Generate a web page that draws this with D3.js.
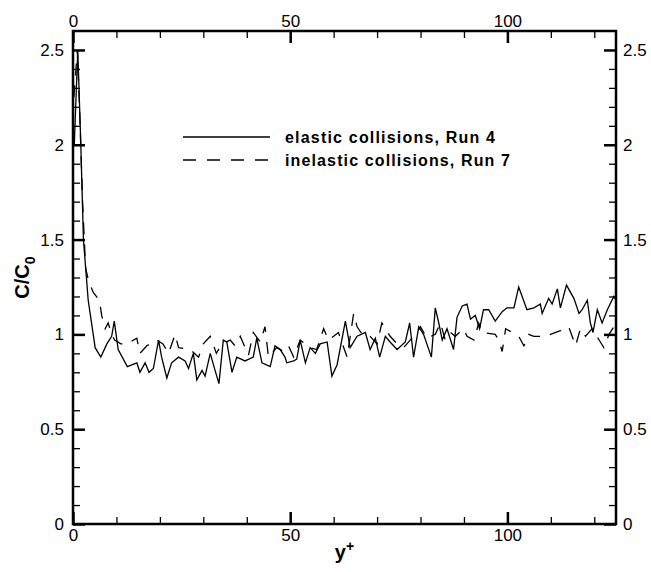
<!DOCTYPE html>
<html>
<head>
<meta charset="utf-8">
<script src="https://cdn.jsdelivr.net/npm/d3@7"></script>
<style>
  body { margin: 0; background: #fff; }
  text { font-family: "Liberation Sans", Arial, sans-serif; fill: #000; }
</style>
</head>
<body>
<div id="chart"></div>
<script>
const width = 651
const height = 572
const margin = { top: 31, right: 35, bottom: 48, left: 73 }

// --- Data ---
// elastic collisions, Run 4 (solid)
const elasticX = [0.3, 1.1, 1.8, 2.4, 3.5, 5.1, 6.4, 7.8, 8.9, 9.5, 10.4, 12.5, 14.7, 15.4, 16.6, 17.5, 18.5, 19.7, 20.4, 21.6,
  22.7, 24.3, 25.8, 26.6, 27.7, 28.5, 29.7, 30.4, 31.6, 32.7, 33.6, 34.6, 35.4, 36.6, 37.7, 39.6, 41.5, 42.3, 43.5, 45.4,
  46.5, 47.7, 48.8, 49.2, 50.8, 51.5, 52.3, 53.5, 54.6, 55.8, 56.9, 58.5, 59.6, 60.8, 62.7, 63.8, 65.4, 67.3, 68.4, 69.6,
  70.6, 71.9, 73.0, 74.6, 76.5, 77.5, 78.4, 79.6, 80.7, 82.5, 83.4, 84.2, 85.0, 86.1, 87.6, 88.4, 89.6, 90.7, 91.5, 92.6,
  93.6, 94.5, 95.7, 97.2, 98.8, 99.9, 101.5, 102.6, 104.5, 106.1, 107.6, 108.0, 109.5, 110.3, 111.5, 112.2, 113.6, 115.3,
  116.5, 117.2, 118.4, 119.1, 119.7, 120.7, 121.8, 123.0, 124.5, 125]
const elasticY = [2.0, 2.5, 2.0, 1.5, 1.18, 0.93, 0.88, 0.95, 0.99, 1.07, 0.92, 0.83, 0.85, 0.80, 0.85, 0.80, 0.82, 0.97, 0.88, 0.77,
  0.85, 0.88, 0.86, 0.82, 0.90, 0.76, 0.81, 0.78, 0.90, 0.81, 0.74, 0.97, 0.96, 0.80, 0.88, 0.86, 0.88, 0.98, 0.85, 0.83,
  0.94, 0.92, 0.88, 0.85, 0.86, 0.87, 0.97, 0.85, 0.93, 0.90, 0.95, 0.96, 0.78, 0.84, 1.07, 0.93, 0.99, 1.01, 0.92, 0.98,
  0.88, 0.99, 0.96, 0.92, 0.96, 1.06, 0.88, 1.04, 1.00, 0.88, 1.14, 1.06, 0.97, 1.03, 0.92, 1.09, 1.15, 1.16, 1.08, 1.10,
  1.03, 1.13, 1.13, 1.07, 1.12, 1.14, 1.14, 1.25, 1.13, 1.14, 1.16, 1.11, 1.19, 1.16, 1.24, 1.14, 1.26, 1.19,
  1.11, 1.13, 1.18, 1.06, 1.01, 1.13, 1.06, 1.13, 1.20, 1.18]

// inelastic collisions, Run 7 (dashed)
const inelasticX = [0.2, 1.0, 1.5, 2.2, 2.9, 3.6, 4.7, 6.1, 6.6, 7.4, 8.1, 8.9, 9.6, 11.0, 12.4, 14.7, 15.4, 17.0, 19.3, 20.7,
  22.0, 23.5, 24.3, 27.0, 28.9, 30.0, 31.6, 33.0, 34.3, 36.2, 37.3, 38.5, 40.4, 41.5, 43.1, 44.2, 45.0, 46.9, 48.5, 49.6,
  50.8, 52.3, 54.6, 56.1, 57.7, 58.8, 60.0, 61.1, 63.1, 64.6, 65.4, 66.9, 68.4, 70.0, 71.1, 73.0, 74.6, 76.1, 79.2, 80.0,
  81.5, 83.4, 84.6, 85.7, 86.9, 88.0, 89.9, 90.7, 92.3, 93.4, 94.2, 97.2, 98.0, 98.8, 99.6, 101.1, 102.6, 103.8, 104.9, 106.1,
  108.4, 109.9, 112.2, 114.1, 115.7, 116.8, 118.0, 119.5, 121.4, 122.2, 123.4, 124.5, 125]
const inelasticY = [2.25, 2.5, 2.2, 1.7, 1.35, 1.28, 1.22, 1.18, 1.10, 1.03, 1.06, 1.00, 0.97, 0.95, 0.95, 0.98, 0.90, 0.94, 0.97, 0.95,
  0.90, 1.00, 0.93, 0.92, 0.88, 0.95, 0.99, 0.90, 0.95, 0.97, 0.94, 0.99, 0.89, 1.01, 0.96, 1.04, 0.88, 0.93, 0.91, 0.94,
  0.88, 0.97, 0.93, 0.92, 1.03, 0.97, 0.99, 1.01, 0.88, 1.11, 1.04, 0.99, 0.99, 0.95, 1.06, 0.99, 0.95, 0.93, 1.01, 1.04,
  0.98, 1.00, 1.06, 0.97, 1.01, 0.99, 1.03, 0.99, 0.97, 1.06, 1.01, 1.00, 0.97, 0.91, 1.03, 1.01, 0.99, 0.94, 1.00, 0.99,
  0.99, 1.00, 1.02, 1.04, 0.94, 1.03, 0.99, 1.03, 0.96, 0.93, 1.00, 1.04, 1.02]

const xMajor = [0, 50, 100]
const xMinor = [10, 20, 30, 40, 60, 70, 80, 90, 110, 120]
const yMajor = [0, 0.5, 1, 1.5, 2, 2.5]
const yMinor = [0.1, 0.2, 0.3, 0.4, 0.6, 0.7, 0.8, 0.9, 1.1, 1.2, 1.3, 1.4, 1.6, 1.7, 1.8, 1.9, 2.1, 2.2, 2.3, 2.4]

const legendLabels = ["elastic collisions, Run 4", "inelastic collisions, Run 7"]
const legendWidths = [210, 225]

const svg = d3.select("#chart").append("svg")
  .attr("width", width)
  .attr("height", height)

const x = d3.scaleLinear().domain([0, 125]).range([margin.left, width - margin.right])
const y = d3.scaleLinear().domain([0, 2.6]).range([height - margin.bottom, margin.top])

// --- Axes (inward ticks on all four sides) ---
const fmt = d => String(d)
const addAxis = (axis, tx, ty, cls) => {
  const g = svg.append("g")
    .attr("class", cls)
    .attr("transform", `translate(${tx}, ${ty})`)
    .call(axis)
  g.select(".domain").remove()
  g.selectAll("text").style("font-size", "17px")
  return g
}

const bottomY = y(0), topY = y(2.6), leftX = x(0), rightX = x(125)

addAxis(d3.axisBottom(x).tickValues(xMajor).tickSizeInner(-12).tickSizeOuter(0).tickPadding(5).tickFormat(fmt), 0, bottomY, "major")
addAxis(d3.axisBottom(x).tickValues(xMinor).tickSizeInner(-7).tickSizeOuter(0).tickFormat(""), 0, bottomY, "minor")
addAxis(d3.axisTop(x).tickValues(xMajor).tickSizeInner(-12).tickSizeOuter(0).tickPadding(4).tickFormat(fmt), 0, topY, "major")
addAxis(d3.axisTop(x).tickValues(xMinor).tickSizeInner(-7).tickSizeOuter(0).tickFormat(""), 0, topY, "minor")
addAxis(d3.axisLeft(y).tickValues(yMajor).tickSizeInner(-12).tickSizeOuter(0).tickPadding(9).tickFormat(fmt), leftX, 0, "major")
addAxis(d3.axisLeft(y).tickValues(yMinor).tickSizeInner(-7).tickSizeOuter(0).tickFormat(""), leftX, 0, "minor")
addAxis(d3.axisRight(y).tickValues(yMajor).tickSizeInner(-12).tickSizeOuter(0).tickPadding(7).tickFormat(fmt), rightX, 0, "major")
addAxis(d3.axisRight(y).tickValues(yMinor).tickSizeInner(-7).tickSizeOuter(0).tickFormat(""), rightX, 0, "minor")

svg.selectAll(".major line").attr("stroke", "#000").attr("stroke-width", 2.5)
svg.selectAll(".minor line").attr("stroke", "#000").attr("stroke-width", 1.3)

// frame
svg.append("rect")
  .attr("x", leftX)
  .attr("y", topY)
  .attr("width", rightX - leftX)
  .attr("height", bottomY - topY)
  .attr("fill", "none")
  .attr("stroke", "#000")
  .attr("stroke-width", 2.5)

// --- Lines ---
const line = d3.line()
  .x(d => x(d[0]))
  .y(d => y(d[1]))

svg.append("path")
  .datum(d3.zip(elasticX, elasticY))
  .attr("fill", "none")
  .attr("stroke", "#000")
  .attr("stroke-width", 1.3)
  .attr("d", line)

svg.append("path")
  .datum(d3.zip(inelasticX, inelasticY))
  .attr("fill", "none")
  .attr("stroke", "#000")
  .attr("stroke-width", 1.3)
  .attr("stroke-dasharray", "12,10")
  .attr("d", line)

// --- Legend ---
const legend = svg.append("g").attr("transform", "translate(183, 137)")
legendLabels.forEach((lab, i) => {
  legend.append("line")
    .attr("x1", 0).attr("x2", 87)
    .attr("y1", i * 23).attr("y2", i * 23)
    .attr("stroke", "#000")
    .attr("stroke-width", 1.3)
    .attr("stroke-dasharray", i === 1 ? "13,11" : null)
  legend.append("text")
    .attr("x", 102)
    .attr("y", i * 23 + 6)
    .attr("textLength", legendWidths[i])
    .attr("lengthAdjust", "spacing")
    .style("font-size", "16px")
    .style("font-weight", "bold")
    .text(lab)
})

// --- Axis titles ---
const yTitle = svg.append("text")
  .attr("transform", `translate(29, ${(topY + bottomY) / 2}) rotate(-90)`)
  .attr("text-anchor", "middle")
  .style("font-size", "20px")
  .style("font-weight", "bold")
yTitle.append("tspan").text("C/C")
yTitle.append("tspan").attr("dy", 6).style("font-size", "14px").text("0")

const xTitle = svg.append("text")
  .attr("x", (leftX + rightX) / 2)
  .attr("y", 559)
  .attr("text-anchor", "middle")
  .style("font-size", "20px")
  .style("font-weight", "bold")
xTitle.append("tspan").text("y")
xTitle.append("tspan").attr("dy", -8).style("font-size", "14px").text("+")
</script>
</body>
</html>
